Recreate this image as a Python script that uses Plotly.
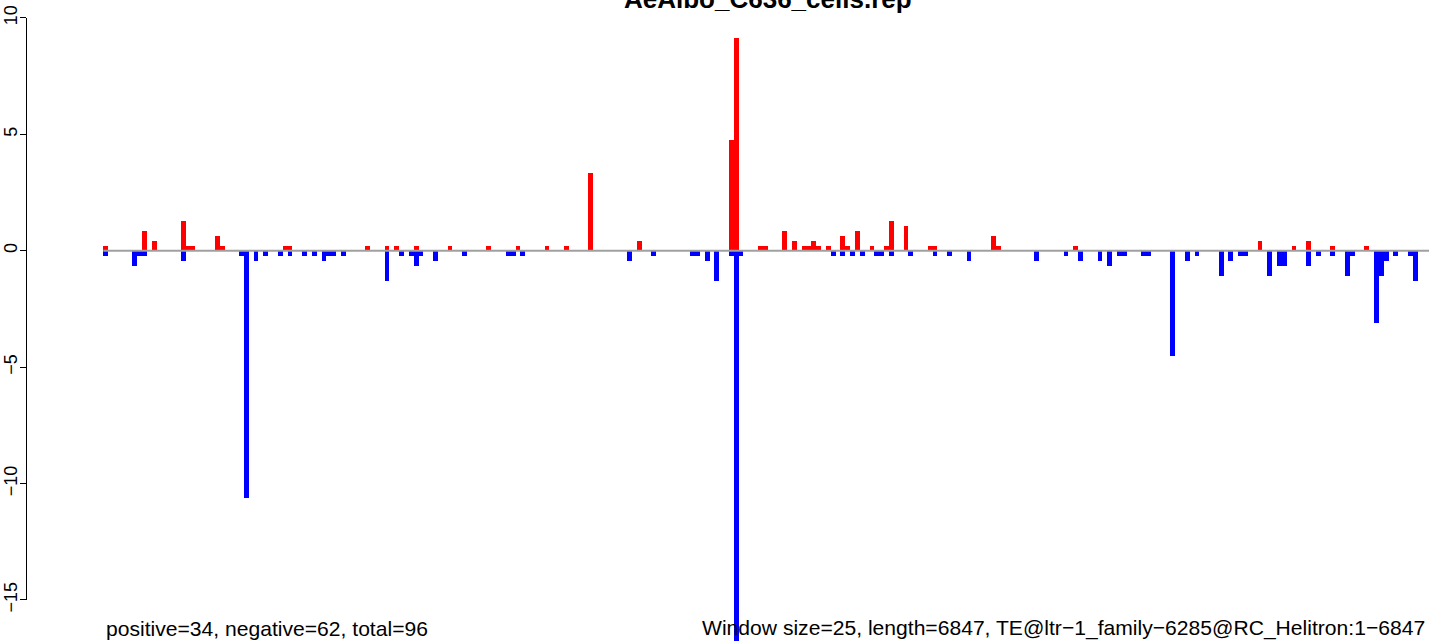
import plotly.graph_objects as go

# ---- data (window index, value) ----
pos_idx = [0, 8, 10, 16, 17, 18, 23, 24, 37, 38, 54, 58, 60, 64, 71, 79, 85, 91, 95, 100,
           110, 129, 130, 135, 136, 140, 142, 144, 145, 146, 147, 149, 152, 153, 155, 158,
           161, 162, 165, 170, 171, 183, 184, 200, 238, 245, 248, 253, 260]
pos_val = [0.21, 0.86, 0.43, 1.29, 0.21, 0.21, 0.64, 0.21, 0.21, 0.21, 0.21, 0.21, 0.21, 0.21,
           0.21, 0.21, 0.21, 0.21, 0.21, 3.32, 0.43, 4.77, 9.15, 0.21, 0.21, 0.86, 0.43, 0.21,
           0.21, 0.43, 0.21, 0.21, 0.64, 0.21, 0.86, 0.21, 0.21, 1.29, 1.07, 0.21, 0.21, 0.64,
           0.21, 0.21, 0.43, 0.21, 0.43, 0.21, 0.21]

neg_idx = [0, 6, 7, 8, 16, 28, 29, 31, 33, 36, 38, 41, 43, 45, 46, 47, 49, 58, 61, 63, 64, 65,
           68, 74, 83, 84, 86, 108, 113, 121, 122, 124, 126, 129, 130, 131, 150, 152, 154, 156,
           159, 160, 162, 166, 171, 174, 178, 192, 198, 201, 205, 207, 209, 210, 214, 215, 220,
           223, 225, 230, 232, 234, 235, 240, 242, 243, 248, 250, 253, 256, 257, 262, 263, 264,
           266, 269, 270]
neg_val = [-0.21, -0.64, -0.21, -0.21, -0.43, -0.21, -10.62, -0.43, -0.21, -0.21, -0.21, -0.21,
           -0.21, -0.43, -0.21, -0.21, -0.21, -1.29, -0.21, -0.21, -0.64, -0.21, -0.43, -0.21,
           -0.21, -0.21, -0.21, -0.43, -0.21, -0.21, -0.21, -0.43, -1.29, -0.21, -16.9, -0.21,
           -0.21, -0.21, -0.21, -0.21, -0.21, -0.21, -0.21, -0.21, -0.21, -0.21, -0.43, -0.43,
           -0.21, -0.43, -0.43, -0.64, -0.21, -0.21, -0.21, -0.21, -4.53, -0.43, -0.21, -1.07,
           -0.43, -0.21, -0.21, -1.07, -0.64, -0.64, -0.64, -0.21, -0.21, -1.07, -0.21, -3.11,
           -1.07, -0.43, -0.21, -0.21, -1.29]

y_ticks = [-15, -10, -5, 0, 5, 10]
y_tick_text = ["\u221215", "\u221210", "\u22125", "0", "5", "10"]

title = "AeAlbo_C636_cells.rep"
left_note = "positive=34, negative=62, total=96"
right_note = "Window size=25, length=6847, TE@ltr\u22121_family\u22126285@RC_Helitron:1\u22126847"

FONT = "Liberation Sans, Arial, Helvetica, sans-serif"

fig = go.Figure()
fig.add_trace(go.Bar(x=pos_idx, y=pos_val, width=1, marker=dict(color="#ff0000", line=dict(width=0)),
                     showlegend=False, hoverinfo="x+y"))
fig.add_trace(go.Bar(x=neg_idx, y=neg_val, width=1, marker=dict(color="#0000ff", line=dict(width=0)),
                     showlegend=False, hoverinfo="x+y"))
# helper trace to host the visible y axis
fig.add_trace(go.Scatter(x=[None], y=[None], xaxis="x2", yaxis="y2", mode="markers",
                         showlegend=False, hoverinfo="skip"))

x0, x1 = -16.43, 272.85
fig.add_shape(type="line", xref="x", yref="y", x0=-0.5, x1=x1, y0=0, y1=0,
              line=dict(color="#a0a0a0", width=2), layer="above")

fig.update_layout(
    width=1429, height=641, autosize=False,
    margin=dict(l=26, r=0, t=0, b=0, autoexpand=False),
    paper_bgcolor="white", plot_bgcolor="rgba(0,0,0,0)",
    barmode="overlay", bargap=0,
    font=dict(family=FONT, color="black"),
    xaxis=dict(range=[x0, x1], visible=False, fixedrange=True),
    yaxis=dict(range=[-16.76, 10.77], visible=False, fixedrange=True),
    xaxis2=dict(domain=[0, 1], range=[0, 1], visible=False, anchor="y2"),
    yaxis2=dict(domain=[0.06396, 0.97192], range=[-15, 10], anchor="free", position=0,
                showline=True, linecolor="black", linewidth=1,
                ticks="outside", ticklen=6, tickwidth=1, tickcolor="black",
                tickvals=y_ticks, ticktext=y_tick_text, tickangle=-90,
                ticklabelstandoff=-4,
                tickfont=dict(size=18, family=FONT, color="black"),
                showgrid=False, zeroline=False, automargin=False),
)

fig.add_annotation(text="<b>" + title + "</b>", xref="paper", yref="paper",
                   x=(768 - 26) / 1403, y=(641 - 16.5) / 641, xanchor="center", yanchor="bottom",
                   showarrow=False, font=dict(size=26, family=FONT, color="black"))
fig.add_annotation(text=left_note, xref="paper", yref="paper",
                   x=(103.5 - 26) / 1403, y=(641 - 628) / 641, xanchor="left", yanchor="middle",
                   showarrow=False, font=dict(size=21.1, family=FONT, color="black"))
fig.add_annotation(text=right_note, xref="paper", yref="paper",
                   x=(1427 - 26) / 1403, y=(641 - 628) / 641, xanchor="right", yanchor="middle",
                   showarrow=False, font=dict(size=21.1, family=FONT, color="black"))

fig.write_html("out.html", config={"displayModeBar": False},
               post_script="document.body.style.margin='0';")
